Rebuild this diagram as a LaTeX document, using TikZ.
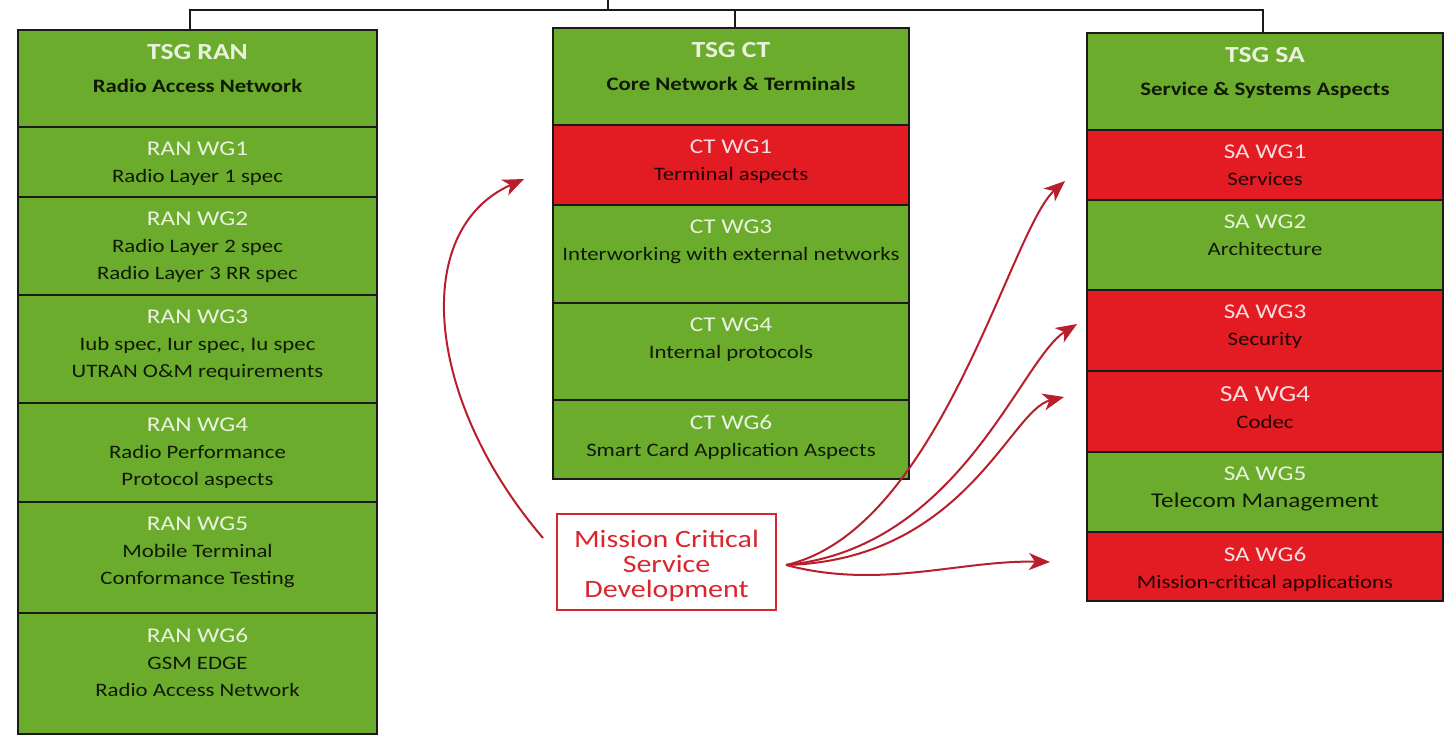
\documentclass[tikz,border=0pt]{standalone}
\usepackage{fontspec}
\setmainfont[FakeStretch=1.2]{Carlito}
\usetikzlibrary{positioning,arrows.meta}

\definecolor{wggreen}{HTML}{6CAC2C}
\definecolor{wgred}{HTML}{E31B23}
\definecolor{boxline}{HTML}{1A1A1A}
\definecolor{mcred}{HTML}{D9262E}
\definecolor{arrowred}{HTML}{B81E2C}

\tikzset{
  cell/.style={draw=boxline, line width=2.4pt, minimum height=#1, inner sep=0pt, outer sep=0pt},
  wgtext/.style={align=center, inner sep=0pt, text=black, text opacity=0.85,
    font=\fontsize{19}{27}\selectfont},
  tree/.style={draw=boxline, line width=2pt},
  link/.style={draw=arrowred, line width=2pt, -{Stealth[length=21pt,width=17pt,inset=6pt]}}
}

\newcommand{\wgtitle}[1]{{\color{white}\fontsize{21}{27}\selectfont #1}}
\newcommand{\tsgtitle}[1]{{\color{white}\bfseries\fontsize{23}{27}\selectfont #1}}

\begin{document}
\begin{tikzpicture}[x=1pt,y=-1pt]
\useasboundingbox (0,0) rectangle (1446,736);

% The headers
\node[cell=97, minimum width=359, fill=wggreen, anchor=north west] (ran) at (18,30) {};
\node[wgtext, below=14.5pt of ran.north] (ran t) {\tsgtitle{TSG RAN}\\[6pt]\bfseries Radio Access Network};
\node[cell=97, minimum width=356, fill=wggreen, anchor=north west] (ct) at (553,28) {};
\node[wgtext, below=14.5pt of ct.north] (ct t) {\tsgtitle{TSG CT}\\[6pt]\bfseries Core Network \& Terminals};
\node[cell=97, minimum width=356, fill=wggreen, anchor=north west] (sa) at (1087,33) {};
\node[wgtext, below=14.5pt of sa.north] (sa t) {\tsgtitle{TSG SA}\\[6pt]\bfseries Service \& Systems Aspects};

% The working groups
\foreach \wgname/\wgh/\wgfill/\wgttl/\wgdesc [remember=\wgname as \wgprev (initially ran)] in {
  ran1/70/wggreen/RAN WG1/Radio Layer 1 spec,
  ran2/98/wggreen/RAN WG2/Radio Layer 2 spec\\Radio Layer 3 RR spec,
  ran3/108/wggreen/RAN WG3/{Iub spec, Iur spec, Iu spec\\UTRAN O\&M requirements},
  ran4/99/wggreen/RAN WG4/Radio Performance\\Protocol aspects,
  ran5/111/wggreen/RAN WG5/Mobile Terminal\\Conformance Testing,
  ran6/121/wggreen/RAN WG6/GSM EDGE\\Radio Access Network}
{
  \node[cell=\wgh, minimum width=359, fill=\wgfill, below=0pt of \wgprev.south] (\wgname) {};
  \node[wgtext, below=15pt of \wgname.north] (\wgname t) {\wgtitle{\wgttl}\\\wgdesc};
}
\foreach \wgname/\wgh/\wgfill/\wgttl/\wgdesc [remember=\wgname as \wgprev (initially ct)] in {
  ct1/80/wgred/CT WG1/Terminal aspects,
  ct3/98/wggreen/CT WG3/Interworking with external networks,
  ct4/97/wggreen/CT WG4/Internal protocols,
  ct6/79/wggreen/CT WG6/Smart Card Application Aspects}
{
  \node[cell=\wgh, minimum width=356, fill=\wgfill, below=0pt of \wgprev.south] (\wgname) {};
  \node[wgtext, below=15pt of \wgname.north] (\wgname t) {\wgtitle{\wgttl}\\\wgdesc};
}
\foreach \wgname/\wgh/\wgfill/\wgttl/\wgdesc [remember=\wgname as \wgprev (initially sa)] in {
  sa1/70/wgred/SA WG1/Services,
  sa2/90/wggreen/SA WG2/Architecture,
  sa3/81/wgred/SA WG3/Security,
  sa4/81/wgred/{\fontsize{23}{27}\selectfont SA WG4}/Codec,
  sa5/80/wggreen/SA WG5/{\fontsize{21}{27}\selectfont Telecom Management},
  sa6/69/wgred/SA WG6/Mission-critical applications}
{
  \node[cell=\wgh, minimum width=356, fill=\wgfill, below=0pt of \wgprev.south] (\wgname) {};
  \node[wgtext, below=15pt of \wgname.north] (\wgname t) {\wgtitle{\wgttl}\\\wgdesc};
}

% The tree on top
\coordinate (root) at (608,0);
\coordinate (bar) at (608,10);
\draw[tree] (root) -- (bar);
\draw[tree] ([xshift=-7.5pt]ran.north) |- (bar) -| ([xshift=-2pt]sa.north);
\draw[tree] ([xshift=4pt]ct.north) -- ([xshift=4pt]ct.north |- bar);

% Mission critical box and its arrows
\node[draw=mcred, line width=2pt, text=mcred, align=center, minimum width=219, minimum height=96,
  font=\fontsize{25}{25}\selectfont] (mc) at (666.5,562) {\rule{0pt}{25pt}Mission Critical\\Service\\Development};

\coordinate (ct in) at (524,179);
\coordinate (sa1 in) at (1065,181);
\coordinate (sa3 in) at (1077,324);
\coordinate (sa4 in) at (1064,397);
\coordinate (sa6 in) at (1050,562);

\draw[link] ([shift={(-13,-24)}]mc.west) .. controls (425,400) and (410,230) .. (ct in);
\draw[link] ([shift={(9,3)}]mc.east) .. controls (940,530) and (1010,230) .. (sa1 in);
\draw[link] ([shift={(9,3)}]mc.east) .. controls (960,548) and (1020,360) .. (sa3 in);
\draw[link] ([shift={(9,3)}]mc.east) .. controls (965,560) and (1010,410) .. (sa4 in);
\draw[link] ([shift={(9,3)}]mc.east) .. controls (880,590) and (960,560) .. (sa6 in);
\end{tikzpicture}
\end{document}
